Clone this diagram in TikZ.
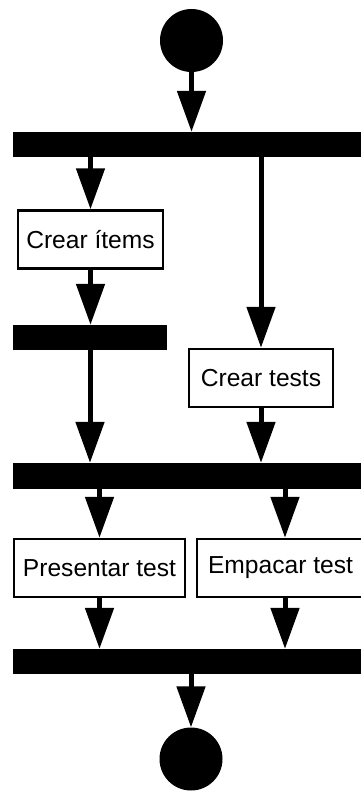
\documentclass[tikz,border=0pt]{standalone}
\usepackage{fontspec}
\setmainfont{Liberation Sans}
\usetikzlibrary{arrows.meta}
\begin{document}
\begin{tikzpicture}[x=1pt,y=1pt,
  state/.style={circle,fill=black,inner sep=0pt,minimum size=63pt},
  bar/.style={fill=black,inner sep=0pt,minimum height=25pt},
  activity/.style={draw=black,line width=2.5pt,fill=white,inner sep=0pt,
    minimum height=58pt,font=\fontsize{24.6}{28}\selectfont},
  flow/.style={line width=5pt,-{Triangle[length=41pt,width=28pt]}}]
\useasboundingbox (0,0) rectangle (361,-792);
\clip (0,0) rectangle (361,-792);
% initial and final states
\node[state] (start) at (191.5,-40.5) {};
\node[state] (final) at (191,-759) {};
% fork / join bars
\node[bar,minimum width=367pt] (fork1) at (196.5,-144.5) {};
\node[bar,minimum width=154pt] (join1) at (90,-337.5) {};
\node[bar,minimum width=367pt,minimum height=26pt] (fork2) at (196.5,-476) {};
\node[bar,minimum width=367pt] (join2) at (196.5,-661.5) {};
% activities
\node[activity,minimum width=145pt] (items) at (90.5,-239.5) {Crear ítems};
\node[activity,minimum width=144pt] (tests) at (261,-378) {Crear tests};
\node[activity,minimum width=171pt] (present) at (99.5,-568) {Presentar test};
\node[activity,minimum width=167pt] (pack) at (280.5,-568) {Empacar test};
\coordinate (packin) at ([xshift=4.5pt]pack.north);
\coordinate (packout) at ([xshift=4.5pt]pack.south);
% control flow
\draw[flow] (start.south) -- (start.south |- fork1.north);
\draw[flow] (items.north |- fork1.south) -- (items.north);
\draw[flow] (tests.north |- fork1.south) -- (tests.north);
\draw[flow] (items.south) -- (items.south |- join1.north);
\draw[flow] (join1.south) -- (join1.south |- fork2.north);
\draw[flow] (tests.south) -- (tests.south |- fork2.north);
\draw[flow] (present.north |- fork2.south) -- (present.north);
\draw[flow] (packin |- fork2.south) -- (packin);
\draw[flow] (present.south) -- (present.south |- join2.north);
\draw[flow] (packout) -- (packout |- join2.north);
\draw[flow] (final.north |- join2.south) -- (final.north);
\end{tikzpicture}
\end{document}
